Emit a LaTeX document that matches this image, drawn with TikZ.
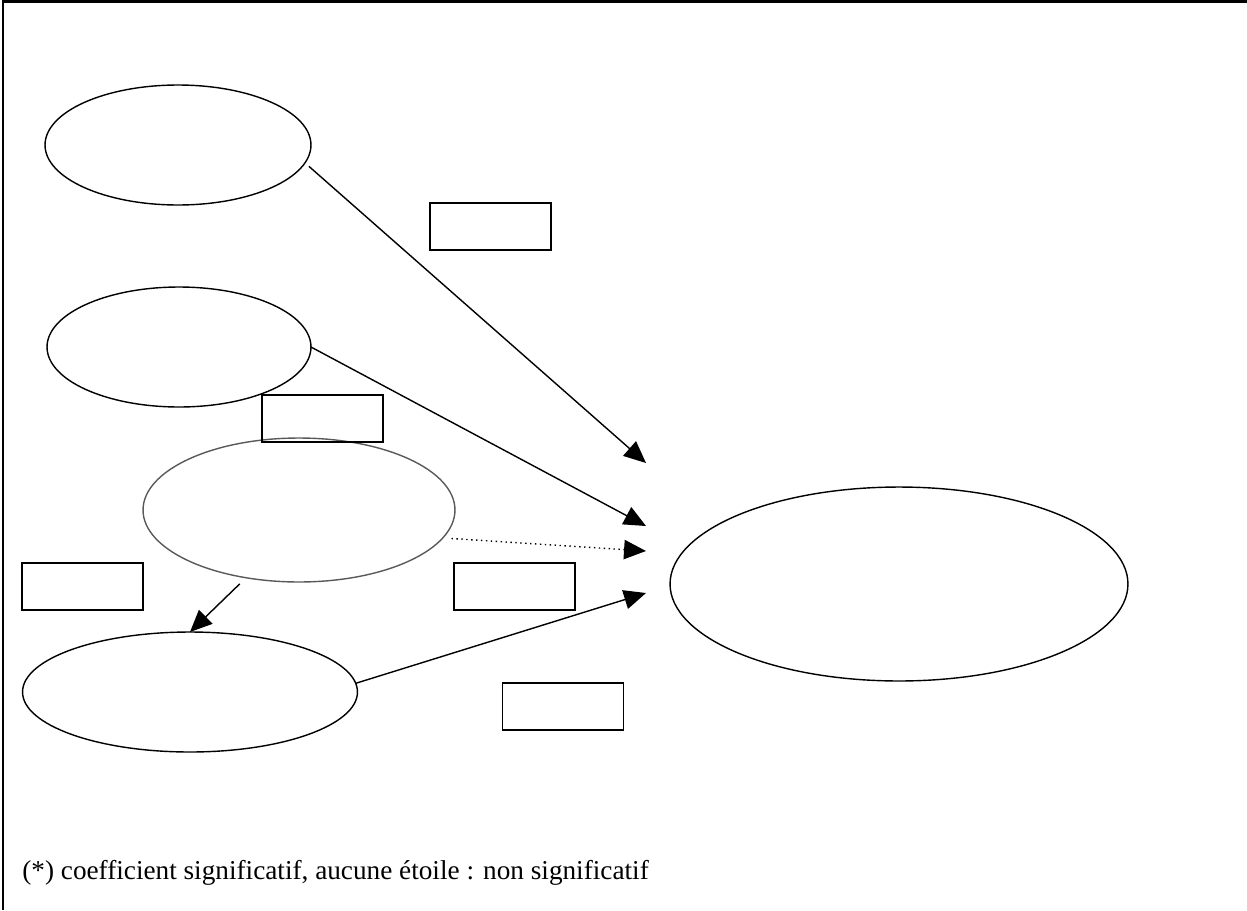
\documentclass[tikz,border=0pt]{standalone}
\usepackage{fontspec}
\setmainfont{Liberation Serif}
\usetikzlibrary{shapes.geometric}
\usetikzlibrary{arrows.meta}

\tikzset{
    latent/.style={draw, ellipse, line width=0.8pt, inner sep=0pt, outer sep=0pt},
    coefbox/.style={draw, rectangle, line width=0.8pt, inner sep=0pt, outer sep=0pt,
        minimum width=2.42cm, minimum height=0.94cm},
    path/.style={line width=0.8pt, -{Triangle[length=12.5pt, width=11pt]}},
}

\begin{document}
\begin{tikzpicture}[x=0.02cm, y=-0.02cm]
    \useasboundingbox (0, 0) rectangle (1247, 910);
    % frame
    \draw[line width=1.2pt] (1247, 1.5) -- (3, 1.5) -- (3, 910);

    % latent variables
    \node[latent, minimum width=5.32cm, minimum height=2.4cm] (v1) at (178, 145) {};
    \node[latent, minimum width=5.28cm, minimum height=2.4cm] (v2) at (179, 347) {};
    \node[latent, draw=black!65, minimum width=6.24cm, minimum height=2.88cm] (v3) at (299, 510) {};
    \node[latent, minimum width=6.7cm, minimum height=2.4cm] (v4) at (190, 692) {};
    \node[latent, minimum width=9.16cm, minimum height=3.88cm] (vy) at (899, 584) {};

    % coefficient boxes
    \node[coefbox] (c1) at (490.5, 226.5) {};
    \node[coefbox] (c2) at (322.5, 418.5) {};
    \node[coefbox] (c3) at (82.5, 586.5) {};
    \node[coefbox] (c4) at (514.5, 586.5) {};
    \node[coefbox] (c5) at (563, 706.5) {};

    % arrow ends
    \coordinate (t1) at (646, 463);
    \coordinate (t2) at (646, 526);
    \coordinate (t3) at (646, 551);
    \coordinate (t4) at (646, 593);

    \draw[path, shorten <=3pt] (v1.-8) -- (t1);
    \draw[path] (v2.east) -- (t2);
    \draw[path, dotted, shorten <=5pt] (v3.-11) -- (t3);
    \draw[path] (v4.3) -- (t4);
    \draw[path, shorten <=5pt] (v3.232) -- (v4.north);

    \node[anchor=base west, inner sep=0pt, font=\fontsize{15.5}{18}\selectfont] (note) at (22, 879)
        {(*) coefficient significatif, aucune étoile : non significatif};
\end{tikzpicture}
\end{document}
